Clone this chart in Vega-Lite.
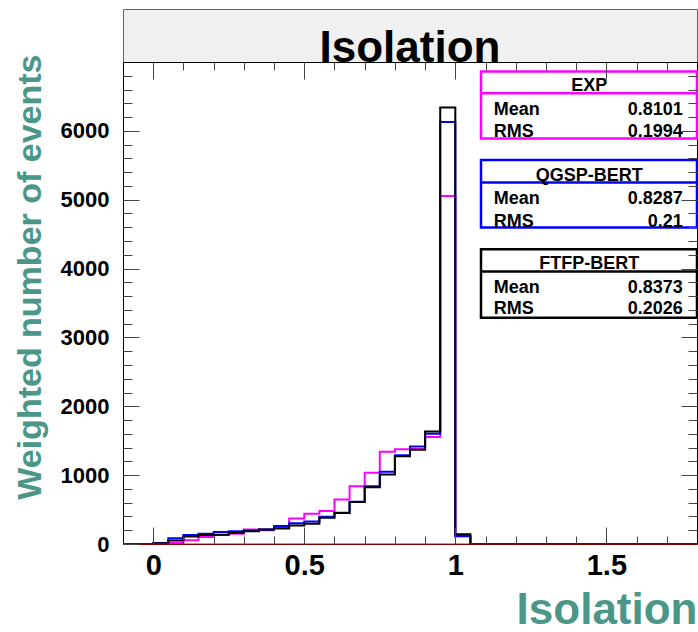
{
  "$schema": "https://vega.github.io/schema/vega-lite/v6.json",
  "padding": {"left": 12, "top": 8, "right": 1, "bottom": 0},
  "bounds": "flush",
  "spacing": 0,
  "config": {"font": "Liberation Sans", "view": {"stroke": null}},
  "datasets": {
    "hist": [
      {"model": "EXP", "isolation": -0.1, "events": 0},
      {"model": "EXP", "isolation": 0, "events": 5},
      {"model": "EXP", "isolation": 0.05, "events": 15},
      {"model": "EXP", "isolation": 0.1, "events": 55},
      {"model": "EXP", "isolation": 0.15, "events": 100},
      {"model": "EXP", "isolation": 0.2, "events": 130},
      {"model": "EXP", "isolation": 0.25, "events": 150},
      {"model": "EXP", "isolation": 0.3, "events": 210},
      {"model": "EXP", "isolation": 0.35, "events": 200},
      {"model": "EXP", "isolation": 0.4, "events": 235},
      {"model": "EXP", "isolation": 0.45, "events": 370},
      {"model": "EXP", "isolation": 0.5, "events": 440},
      {"model": "EXP", "isolation": 0.55, "events": 480},
      {"model": "EXP", "isolation": 0.6, "events": 645},
      {"model": "EXP", "isolation": 0.65, "events": 840},
      {"model": "EXP", "isolation": 0.7, "events": 1035},
      {"model": "EXP", "isolation": 0.75, "events": 1340},
      {"model": "EXP", "isolation": 0.8, "events": 1375},
      {"model": "EXP", "isolation": 0.85, "events": 1380},
      {"model": "EXP", "isolation": 0.9, "events": 1555},
      {"model": "EXP", "isolation": 0.95, "events": 5055},
      {"model": "EXP", "isolation": 1.0, "events": 110},
      {"model": "EXP", "isolation": 1.05, "events": 0},
      {"model": "EXP", "isolation": 1.8, "events": 0},
      {"model": "QGSP-BERT", "isolation": -0.1, "events": 0},
      {"model": "QGSP-BERT", "isolation": 0, "events": 15},
      {"model": "QGSP-BERT", "isolation": 0.05, "events": 85},
      {"model": "QGSP-BERT", "isolation": 0.1, "events": 130},
      {"model": "QGSP-BERT", "isolation": 0.15, "events": 150},
      {"model": "QGSP-BERT", "isolation": 0.2, "events": 175},
      {"model": "QGSP-BERT", "isolation": 0.25, "events": 185},
      {"model": "QGSP-BERT", "isolation": 0.3, "events": 195},
      {"model": "QGSP-BERT", "isolation": 0.35, "events": 210},
      {"model": "QGSP-BERT", "isolation": 0.4, "events": 260},
      {"model": "QGSP-BERT", "isolation": 0.45, "events": 300},
      {"model": "QGSP-BERT", "isolation": 0.5, "events": 325},
      {"model": "QGSP-BERT", "isolation": 0.55, "events": 395},
      {"model": "QGSP-BERT", "isolation": 0.6, "events": 455},
      {"model": "QGSP-BERT", "isolation": 0.65, "events": 615},
      {"model": "QGSP-BERT", "isolation": 0.7, "events": 840},
      {"model": "QGSP-BERT", "isolation": 0.75, "events": 1050},
      {"model": "QGSP-BERT", "isolation": 0.8, "events": 1290},
      {"model": "QGSP-BERT", "isolation": 0.85, "events": 1415},
      {"model": "QGSP-BERT", "isolation": 0.9, "events": 1600},
      {"model": "QGSP-BERT", "isolation": 0.95, "events": 6130},
      {"model": "QGSP-BERT", "isolation": 1.0, "events": 116},
      {"model": "QGSP-BERT", "isolation": 1.05, "events": 0},
      {"model": "QGSP-BERT", "isolation": 1.8, "events": 0},
      {"model": "FTFP-BERT", "isolation": -0.1, "events": 0},
      {"model": "FTFP-BERT", "isolation": 0, "events": 10},
      {"model": "FTFP-BERT", "isolation": 0.05, "events": 50},
      {"model": "FTFP-BERT", "isolation": 0.1, "events": 110},
      {"model": "FTFP-BERT", "isolation": 0.15, "events": 130},
      {"model": "FTFP-BERT", "isolation": 0.2, "events": 135},
      {"model": "FTFP-BERT", "isolation": 0.25, "events": 165},
      {"model": "FTFP-BERT", "isolation": 0.3, "events": 185},
      {"model": "FTFP-BERT", "isolation": 0.35, "events": 210},
      {"model": "FTFP-BERT", "isolation": 0.4, "events": 225},
      {"model": "FTFP-BERT", "isolation": 0.45, "events": 270},
      {"model": "FTFP-BERT", "isolation": 0.5, "events": 295},
      {"model": "FTFP-BERT", "isolation": 0.55, "events": 380},
      {"model": "FTFP-BERT", "isolation": 0.6, "events": 450},
      {"model": "FTFP-BERT", "isolation": 0.65, "events": 610},
      {"model": "FTFP-BERT", "isolation": 0.7, "events": 825},
      {"model": "FTFP-BERT", "isolation": 0.75, "events": 1010},
      {"model": "FTFP-BERT", "isolation": 0.8, "events": 1275},
      {"model": "FTFP-BERT", "isolation": 0.85, "events": 1370},
      {"model": "FTFP-BERT", "isolation": 0.9, "events": 1635},
      {"model": "FTFP-BERT", "isolation": 0.95, "events": 6338},
      {"model": "FTFP-BERT", "isolation": 1.0, "events": 140},
      {"model": "FTFP-BERT", "isolation": 1.05, "events": 0},
      {"model": "FTFP-BERT", "isolation": 1.8, "events": 0}
    ],
    "stats": [
      {"model": "EXP", "Mean": "0.8101", "RMS": "0.1994"},
      {"model": "QGSP-BERT", "Mean": "0.8287", "RMS": "0.21"},
      {"model": "FTFP-BERT", "Mean": "0.8373", "RMS": "0.2026"}
    ]
  },
  "vconcat": [
    {
      "width": 574,
      "height": 53,
      "view": {"fill": "#f0f0f0", "stroke": "#666666", "strokeWidth": 1},
      "data": {"values": [{"title": "Isolation"}]},
      "mark": {"type": "text", "fontSize": 44, "fontWeight": "bold", "color": "#000000", "align": "center", "baseline": "alphabetic"},
      "encoding": {
        "text": {"field": "title"},
        "x": {"datum": 0.5, "type": "quantitative", "scale": {"domain": [0, 1]}, "axis": null},
        "y": {"datum": 0, "type": "quantitative", "scale": {"domain": [0, 1]}, "axis": null}
      }
    },
    {
      "width": 574,
      "height": 482,
      "view": {"fill": "#ffffff", "stroke": "#000000", "strokeWidth": 1},
      "resolve": {"axis": {"x": "independent", "y": "independent"}},
      "layer": [
        {
          "data": {"name": "hist"},
          "mark": {"type": "line", "interpolate": "step-after", "clip": true},
          "encoding": {
            "x": {
              "field": "isolation", "type": "quantitative",
              "scale": {"domain": [-0.1, 1.8], "nice": false, "zero": false},
              "axis": {
                "orient": "bottom",
                "values": [0, 0.1, 0.2, 0.3, 0.4, 0.5, 0.6, 0.7, 0.8, 0.9, 1, 1.1, 1.2, 1.3, 1.4, 1.5, 1.6, 1.7],
                "domain": false, "grid": false, "zindex": 1,
                "tickColor": "#444444", "tickWidth": 1,
                "tickSize": {"condition": {"test": "datum.value % 0.5 === 0", "value": -17}, "value": -8},
                "labelExpr": "datum.value % 0.5 === 0 ? '' + datum.value : ''",
                "labelFontSize": 29, "labelFontWeight": "bold", "labelColor": "#000000",
                "labelPadding": 24, "labelOverlap": false, "labelFlush": false, "labelDx": 2,
                "title": "Isolation", "titleFontSize": 44, "titleFontWeight": "bold", "titleColor": "#4b9787",
                "titleAnchor": "end", "titleAlign": "right", "titleX": 574, "titleY": 79, "titleBaseline": "alphabetic"
              }
            },
            "y": {
              "field": "events", "type": "quantitative",
              "scale": {"domain": [0, 7000], "nice": false},
              "axis": {
                "orient": "left",
                "values": [0, 200, 400, 600, 800, 1000, 1200, 1400, 1600, 1800, 2000, 2200, 2400, 2600, 2800, 3000, 3200, 3400, 3600, 3800, 4000, 4200, 4400, 4600, 4800, 5000, 5200, 5400, 5600, 5800, 6000, 6200, 6400, 6600, 6800],
                "domain": false, "grid": false, "zindex": 1,
                "tickColor": "#444444", "tickWidth": 1,
                "tickSize": {"condition": {"test": "datum.value % 1000 === 0", "value": -16}, "value": -9},
                "labelExpr": "datum.value % 1000 === 0 ? '' + datum.value : ''",
                "labelFontSize": 22, "labelFontWeight": "bold", "labelColor": "#000000",
                "labelPadding": 30, "labelOverlap": false, "labelFlush": false, "labelDy": 4,
                "title": "Weighted number of events", "titleFontSize": 34, "titleFontWeight": "bold", "titleColor": "#4b9787",
                "titleAngle": -90, "titleAnchor": "end", "titleAlign": "right", "titleX": -110, "titleY": -8, "titleBaseline": "top"
              }
            },
            "color": {
              "field": "model", "type": "nominal",
              "scale": {"domain": ["EXP", "QGSP-BERT", "FTFP-BERT"], "range": ["#ff00ff", "#0000ff", "#000000"]},
              "legend": null
            },
            "strokeWidth": {
              "field": "model", "type": "ordinal",
              "scale": {"domain": ["EXP", "QGSP-BERT", "FTFP-BERT"], "range": [2, 2, 2.5]},
              "legend": null
            }
          }
        },
        {
          "data": {"values": [{}]},
          "mark": {"type": "point", "opacity": 0},
          "encoding": {
            "x": {
              "datum": 0, "type": "quantitative",
              "axis": {
                "orient": "top",
                "values": [0, 0.1, 0.2, 0.3, 0.4, 0.5, 0.6, 0.7, 0.8, 0.9, 1, 1.1, 1.2, 1.3, 1.4, 1.5, 1.6, 1.7],
                "domain": false, "grid": false, "labels": false, "title": null, "zindex": 1,
                "tickColor": "#444444", "tickWidth": 1,
                "tickSize": {"condition": {"test": "datum.value % 0.5 === 0", "value": -17}, "value": -8}
              }
            },
            "y": {
              "datum": 0, "type": "quantitative",
              "axis": {
                "orient": "right",
                "values": [200, 400, 600, 800, 1000, 1200, 1400, 1600, 1800, 2000, 2200, 2400, 2600, 2800, 3000, 3200, 3400, 3600, 3800, 4000, 4200, 4400, 4600, 4800, 5000, 5200, 5400, 5600, 5800, 6000, 6200, 6400, 6600, 6800],
                "domain": false, "grid": false, "labels": false, "title": null, "zindex": 1,
                "tickColor": "#444444", "tickWidth": 1,
                "tickSize": {"condition": {"test": "datum.value % 1000 === 0", "value": -16}, "value": -9}
              }
            }
          }
        },
        {
          "data": {"values": [{}]},
          "mark": {"type": "rule", "color": "#ff0000", "strokeWidth": 1},
          "encoding": {"y": {"datum": 0, "type": "quantitative", "axis": null}}
        },
        {
          "data": {"values": [{}]},
          "mark": {"type": "rect", "fill": "#ffffff", "stroke": "#ff00ff", "strokeWidth": 2.5},
          "encoding": {
            "x": {"datum": 1.085, "type": "quantitative", "axis": null}, "x2": {"datum": 1.8},
            "y": {"datum": 6861, "type": "quantitative", "axis": null}, "y2": {"datum": 5888}
          }
        },
        {
          "data": {"values": [{}]},
          "mark": {"type": "rule", "color": "#ff00ff", "strokeWidth": 2.5},
          "encoding": {
            "x": {"datum": 1.085, "type": "quantitative", "axis": null}, "x2": {"datum": 1.8},
            "y": {"datum": 6547, "type": "quantitative", "axis": null}
          }
        },
        {
          "data": {"values": [{}]},
          "mark": {"type": "rect", "fill": "#ffffff", "stroke": "#0000ff", "strokeWidth": 2.5},
          "encoding": {
            "x": {"datum": 1.085, "type": "quantitative", "axis": null}, "x2": {"datum": 1.8},
            "y": {"datum": 5578, "type": "quantitative", "axis": null}, "y2": {"datum": 4595}
          }
        },
        {
          "data": {"values": [{}]},
          "mark": {"type": "rule", "color": "#0000ff", "strokeWidth": 2.5},
          "encoding": {
            "x": {"datum": 1.085, "type": "quantitative", "axis": null}, "x2": {"datum": 1.8},
            "y": {"datum": 5249, "type": "quantitative", "axis": null}
          }
        },
        {
          "data": {"values": [{}]},
          "mark": {"type": "rect", "fill": "#ffffff", "stroke": "#000000", "strokeWidth": 2.5},
          "encoding": {
            "x": {"datum": 1.085, "type": "quantitative", "axis": null}, "x2": {"datum": 1.8},
            "y": {"datum": 4281, "type": "quantitative", "axis": null}, "y2": {"datum": 3287}
          }
        },
        {
          "data": {"values": [{}]},
          "mark": {"type": "rule", "color": "#000000", "strokeWidth": 2.5},
          "encoding": {
            "x": {"datum": 1.085, "type": "quantitative", "axis": null}, "x2": {"datum": 1.8},
            "y": {"datum": 3956, "type": "quantitative", "axis": null}
          }
        },
        {
          "data": {"name": "stats"},
          "transform": [{"filter": "datum.model === 'EXP'"}],
          "mark": {"type": "text", "fontSize": 18, "fontWeight": "bold", "align": "center", "baseline": "middle", "color": "#000000"},
          "encoding": {"text": {"field": "model"}, "x": {"datum": 1.443, "type": "quantitative", "axis": null}, "y": {"datum": 6653, "type": "quantitative", "axis": null}}
        },
        {
          "data": {"name": "stats"},
          "transform": [{"filter": "datum.model === 'QGSP-BERT'"}],
          "mark": {"type": "text", "fontSize": 18, "fontWeight": "bold", "align": "center", "baseline": "middle", "color": "#000000"},
          "encoding": {"text": {"field": "model"}, "x": {"datum": 1.443, "type": "quantitative", "axis": null}, "y": {"datum": 5346, "type": "quantitative", "axis": null}}
        },
        {
          "data": {"name": "stats"},
          "transform": [{"filter": "datum.model === 'FTFP-BERT'"}],
          "mark": {"type": "text", "fontSize": 18, "fontWeight": "bold", "align": "center", "baseline": "middle", "color": "#000000"},
          "encoding": {"text": {"field": "model"}, "x": {"datum": 1.443, "type": "quantitative", "axis": null}, "y": {"datum": 4063, "type": "quantitative", "axis": null}}
        },
        {
          "data": {"name": "stats"},
          "transform": [{"filter": "datum.model === 'EXP'"}],
          "mark": {"type": "text", "fontSize": 18, "fontWeight": "bold", "align": "left", "baseline": "middle", "color": "#000000", "text": "Mean"},
          "encoding": {"x": {"datum": 1.127, "type": "quantitative", "axis": null}, "y": {"datum": 6305, "type": "quantitative", "axis": null}}
        },
        {
          "data": {"name": "stats"},
          "transform": [{"filter": "datum.model === 'EXP'"}],
          "mark": {"type": "text", "fontSize": 18, "fontWeight": "bold", "align": "left", "baseline": "middle", "color": "#000000", "text": "RMS"},
          "encoding": {"x": {"datum": 1.127, "type": "quantitative", "axis": null}, "y": {"datum": 5985, "type": "quantitative", "axis": null}}
        },
        {
          "data": {"name": "stats"},
          "transform": [{"filter": "datum.model === 'EXP'"}],
          "mark": {"type": "text", "fontSize": 18, "fontWeight": "bold", "align": "right", "baseline": "middle", "color": "#000000"},
          "encoding": {"text": {"field": "Mean"}, "x": {"datum": 1.753, "type": "quantitative", "axis": null}, "y": {"datum": 6305, "type": "quantitative", "axis": null}}
        },
        {
          "data": {"name": "stats"},
          "transform": [{"filter": "datum.model === 'EXP'"}],
          "mark": {"type": "text", "fontSize": 18, "fontWeight": "bold", "align": "right", "baseline": "middle", "color": "#000000"},
          "encoding": {"text": {"field": "RMS"}, "x": {"datum": 1.753, "type": "quantitative", "axis": null}, "y": {"datum": 5985, "type": "quantitative", "axis": null}}
        },
        {
          "data": {"name": "stats"},
          "transform": [{"filter": "datum.model === 'QGSP-BERT'"}],
          "mark": {"type": "text", "fontSize": 18, "fontWeight": "bold", "align": "left", "baseline": "middle", "color": "#000000", "text": "Mean"},
          "encoding": {"x": {"datum": 1.127, "type": "quantitative", "axis": null}, "y": {"datum": 5016, "type": "quantitative", "axis": null}}
        },
        {
          "data": {"name": "stats"},
          "transform": [{"filter": "datum.model === 'QGSP-BERT'"}],
          "mark": {"type": "text", "fontSize": 18, "fontWeight": "bold", "align": "left", "baseline": "middle", "color": "#000000", "text": "RMS"},
          "encoding": {"x": {"datum": 1.127, "type": "quantitative", "axis": null}, "y": {"datum": 4678, "type": "quantitative", "axis": null}}
        },
        {
          "data": {"name": "stats"},
          "transform": [{"filter": "datum.model === 'QGSP-BERT'"}],
          "mark": {"type": "text", "fontSize": 18, "fontWeight": "bold", "align": "right", "baseline": "middle", "color": "#000000"},
          "encoding": {"text": {"field": "Mean"}, "x": {"datum": 1.753, "type": "quantitative", "axis": null}, "y": {"datum": 5016, "type": "quantitative", "axis": null}}
        },
        {
          "data": {"name": "stats"},
          "transform": [{"filter": "datum.model === 'QGSP-BERT'"}],
          "mark": {"type": "text", "fontSize": 18, "fontWeight": "bold", "align": "right", "baseline": "middle", "color": "#000000"},
          "encoding": {"text": {"field": "RMS"}, "x": {"datum": 1.753, "type": "quantitative", "axis": null}, "y": {"datum": 4678, "type": "quantitative", "axis": null}}
        },
        {
          "data": {"name": "stats"},
          "transform": [{"filter": "datum.model === 'FTFP-BERT'"}],
          "mark": {"type": "text", "fontSize": 18, "fontWeight": "bold", "align": "left", "baseline": "middle", "color": "#000000", "text": "Mean"},
          "encoding": {"x": {"datum": 1.127, "type": "quantitative", "axis": null}, "y": {"datum": 3725, "type": "quantitative", "axis": null}}
        },
        {
          "data": {"name": "stats"},
          "transform": [{"filter": "datum.model === 'FTFP-BERT'"}],
          "mark": {"type": "text", "fontSize": 18, "fontWeight": "bold", "align": "left", "baseline": "middle", "color": "#000000", "text": "RMS"},
          "encoding": {"x": {"datum": 1.127, "type": "quantitative", "axis": null}, "y": {"datum": 3410, "type": "quantitative", "axis": null}}
        },
        {
          "data": {"name": "stats"},
          "transform": [{"filter": "datum.model === 'FTFP-BERT'"}],
          "mark": {"type": "text", "fontSize": 18, "fontWeight": "bold", "align": "right", "baseline": "middle", "color": "#000000"},
          "encoding": {"text": {"field": "Mean"}, "x": {"datum": 1.753, "type": "quantitative", "axis": null}, "y": {"datum": 3725, "type": "quantitative", "axis": null}}
        },
        {
          "data": {"name": "stats"},
          "transform": [{"filter": "datum.model === 'FTFP-BERT'"}],
          "mark": {"type": "text", "fontSize": 18, "fontWeight": "bold", "align": "right", "baseline": "middle", "color": "#000000"},
          "encoding": {"text": {"field": "RMS"}, "x": {"datum": 1.753, "type": "quantitative", "axis": null}, "y": {"datum": 3410, "type": "quantitative", "axis": null}}
        }
      ]
    }
  ]
}
